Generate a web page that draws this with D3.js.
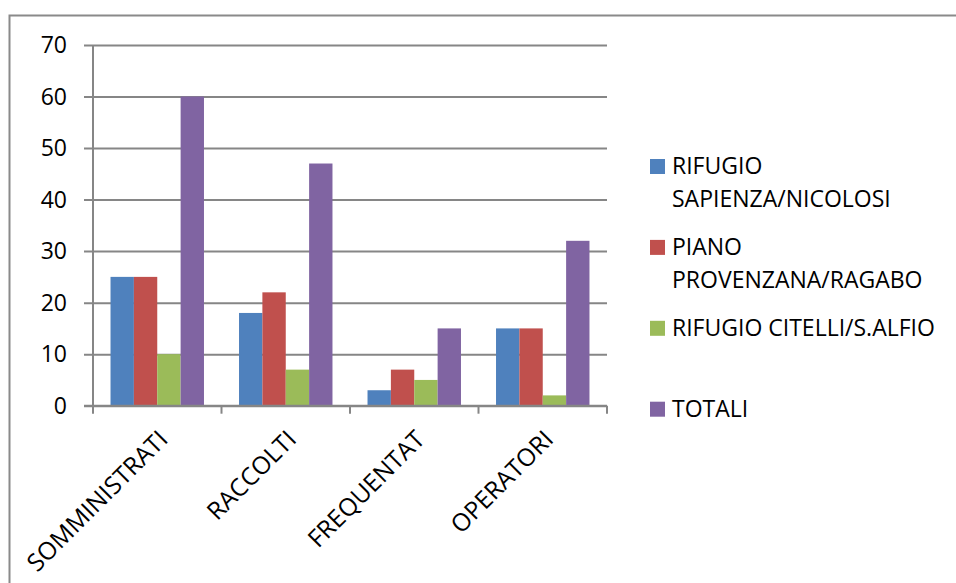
<!DOCTYPE html>
<html>
<head>
<meta charset="utf-8">
<script src="https://cdn.jsdelivr.net/npm/d3@7"></script>
<style>
  html, body { margin: 0; padding: 0; background: #fff; }
  svg { display: block; }
  text { font-family: "Open Sans", sans-serif; fill: #000; }
</style>
</head>
<body>
<svg id="chart" width="956" height="583"></svg>
<script>
// Categories and series
const categories = ["SOMMINISTRATI", "RACCOLTI", "FREQUENTAT", "OPERATORI"];
const seriesNames = [
  "RIFUGIO SAPIENZA/NICOLOSI",
  "PIANO PROVENZANA/RAGABO",
  "RIFUGIO CITELLI/S.ALFIO",
  "TOTALI"
];
const sapienzaNicolosi = [25, 18, 3, 15];
const provenzanaRagabo = [25, 22, 7, 15];
const citelliSAlfio = [10, 7, 5, 2];
const totali = [60, 47, 15, 32];
const yTicks = [0, 10, 20, 30, 40, 50, 60, 70];
const seriesColors = ["#4F81BD", "#C0504D", "#9BBB59", "#8064A2"];

const seriesValues = [sapienzaNicolosi, provenzanaRagabo, citelliSAlfio, totali];

const svg = d3.select("#chart");
const plot = { left: 93, right: 607, top: 45, bottom: 405.7 };
const gridColor = "#868686";

// Outer frame (left and top edges)
svg.append("path")
  .attr("d", "M9.5,600 L9.5,15.5 L960,15.5")
  .attr("fill", "none")
  .attr("stroke", "#8a8a8a")
  .attr("stroke-width", 2);

const x0 = d3.scaleBand()
  .domain(categories)
  .range([plot.left, plot.right])
  .paddingInner(0)
  .paddingOuter(0);

// bars fill 4/5.5 of each category (gap = 1.5 bar widths)
const x1 = d3.scaleBand()
  .domain(d3.range(seriesNames.length))
  .range([0, x0.bandwidth()])
  .paddingInner(0)
  .paddingOuter(0.75);

const y = d3.scaleLinear().domain([0, 70]).range([plot.bottom, plot.top]);

// Horizontal gridlines with left tick marks
const yAxis = d3.axisLeft(y)
  .tickValues(yTicks)
  .tickSize(-(plot.right - plot.left))
  .tickSizeOuter(0)
  .tickFormat("");
const yg = svg.append("g")
  .attr("transform", `translate(${plot.left},0)`)
  .call(yAxis);
yg.select(".domain").remove();
yg.selectAll(".tick line")
  .attr("x1", -9)
  .attr("stroke", gridColor)
  .attr("stroke-width", 2);

// Y tick labels
svg.append("g").selectAll("text")
  .data(yTicks)
  .join("text")
  .attr("x", 67)
  .attr("y", d => y(d))
  .attr("dy", "0.36em")
  .attr("text-anchor", "end")
  .attr("font-size", 23)
  .text(d => d);

// Bars
const groups = svg.append("g").selectAll("g")
  .data(categories)
  .join("g")
  .attr("transform", d => `translate(${x0(d)},0)`);

groups.selectAll("rect")
  .data((c, ci) => seriesValues.map((vals, si) => ({ si, v: vals[ci] })))
  .join("rect")
  .attr("x", d => x1(d.si))
  .attr("width", x1.bandwidth())
  .attr("y", d => y(d.v))
  .attr("height", d => y(0) - y(d.v))
  .attr("fill", d => seriesColors[d.si]);

// Y axis line
svg.append("line")
  .attr("x1", plot.left).attr("x2", plot.left)
  .attr("y1", plot.top).attr("y2", plot.bottom)
  .attr("stroke", gridColor).attr("stroke-width", 2);

// X axis with category separators
const xg = svg.append("g")
  .attr("transform", `translate(0,${plot.bottom})`);
xg.append("line")
  .attr("x1", plot.left - 9).attr("x2", plot.right)
  .attr("stroke", gridColor).attr("stroke-width", 2);
const sepPositions = categories.map(c => x0(c)).concat([plot.right]);
xg.selectAll("line.sep")
  .data(sepPositions)
  .join("line")
  .attr("class", "sep")
  .attr("x1", d => d).attr("x2", d => d)
  .attr("y1", 0).attr("y2", 8)
  .attr("stroke", gridColor).attr("stroke-width", 2);

// Rotated category labels
svg.append("g").selectAll("text")
  .data(categories)
  .join("text")
  .attr("text-anchor", "end")
  .attr("font-size", 24.5)
  .attr("transform", d => {
    const cx = x0(d) + x0.bandwidth() / 2 + 12;
    return `translate(${cx},441) rotate(-45)`;
  })
  .text(d => d);

// Legend
const legend = { x: 650, textX: 672, firstBaseline: 174, step: 80.9, lineH: 33, maxW: 280, size: 15 };
const lg = svg.append("g");
seriesNames.forEach((name, i) => {
  const base = legend.firstBaseline + i * legend.step;
  lg.append("rect")
    .attr("x", legend.x)
    .attr("y", base - legend.size)
    .attr("width", legend.size)
    .attr("height", legend.size)
    .attr("fill", seriesColors[i]);
  const t = lg.append("text")
    .attr("x", legend.textX)
    .attr("y", base)
    .attr("font-size", 23);
  // greedy word wrap
  const words = name.split(" ");
  let line = [];
  let lineNo = 0;
  let tspan = t.append("tspan").attr("x", legend.textX).attr("y", base);
  words.forEach(w => {
    line.push(w);
    tspan.text(line.join(" "));
    if (tspan.node().getComputedTextLength() > legend.maxW && line.length > 1) {
      line.pop();
      tspan.text(line.join(" "));
      line = [w];
      lineNo++;
      tspan = t.append("tspan")
        .attr("x", legend.textX)
        .attr("y", base + lineNo * legend.lineH)
        .text(w);
    }
  });
});
</script>
</body>
</html>
